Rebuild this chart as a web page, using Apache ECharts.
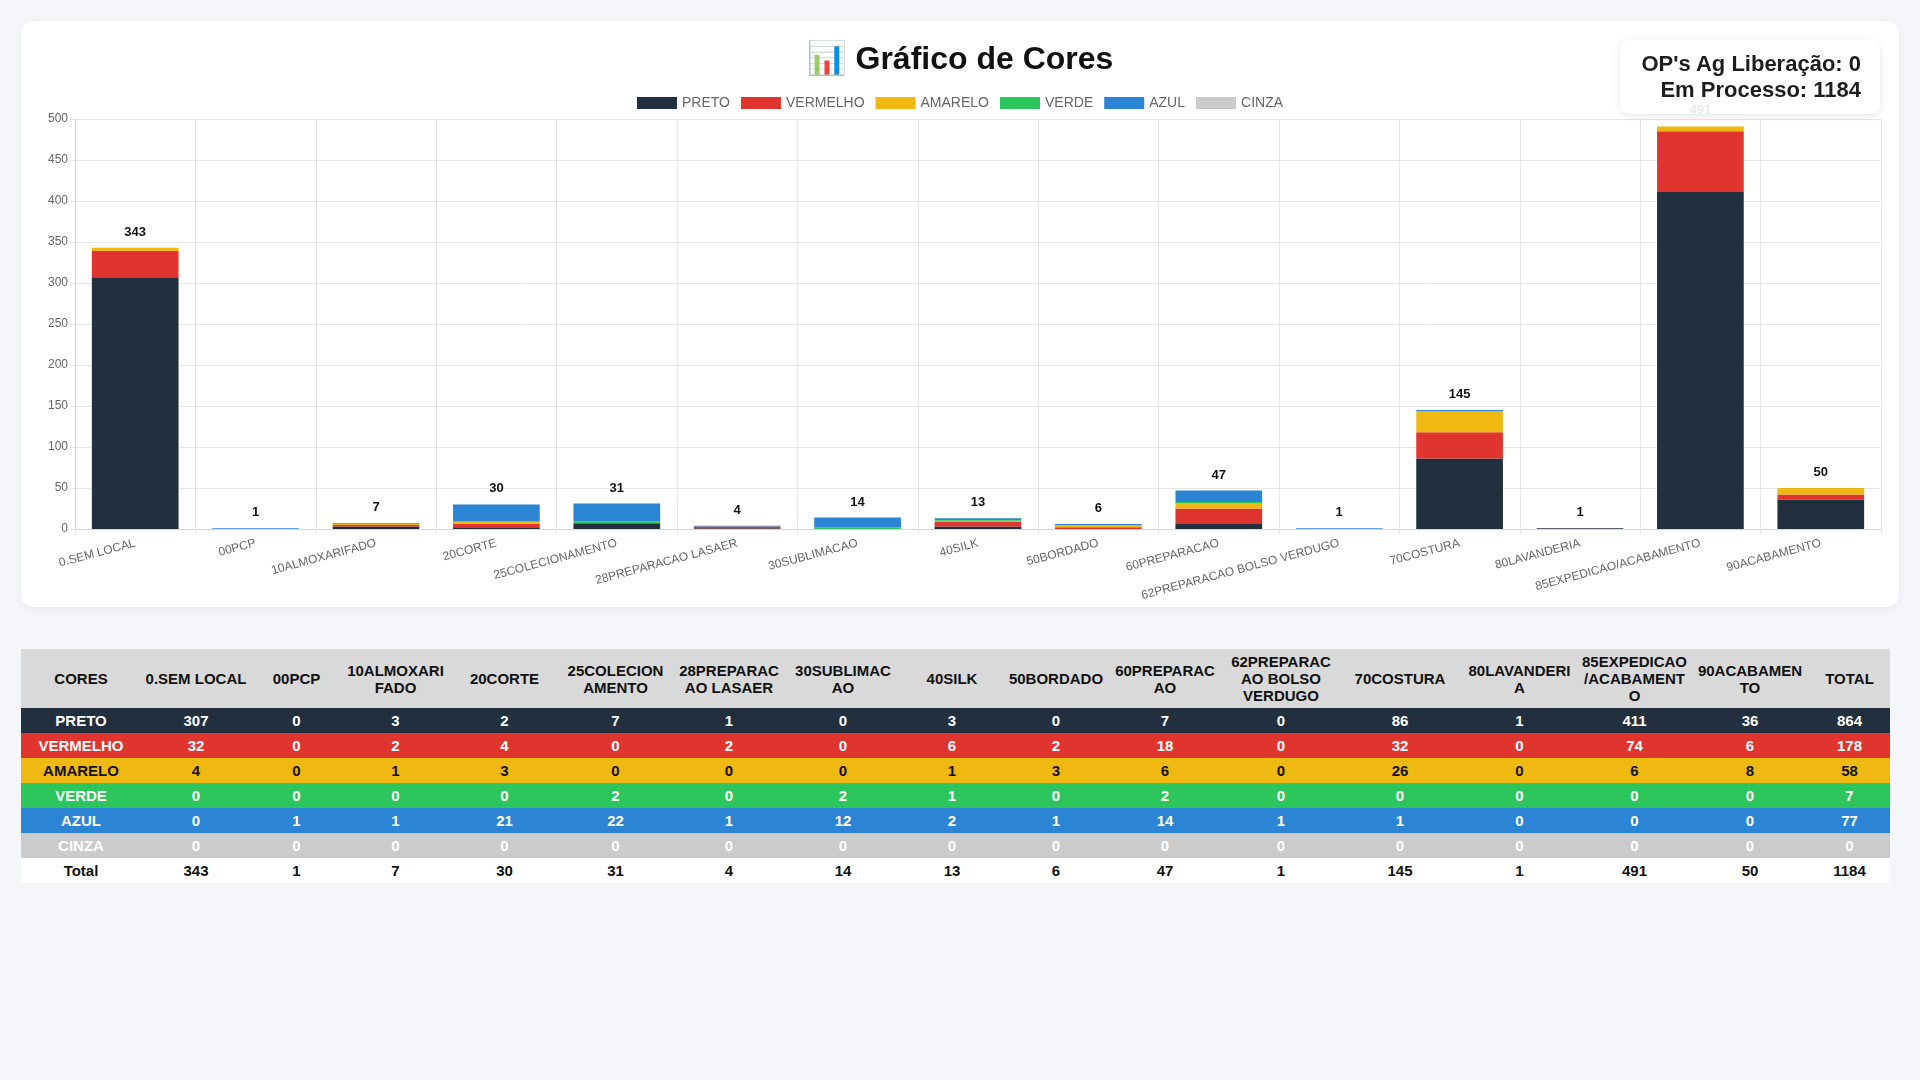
<!DOCTYPE html>
<html lang="pt-BR">
<head>
<meta charset="utf-8">
<title>Gráfico de Cores</title>
<script src="https://cdn.jsdelivr.net/npm/echarts@6/dist/echarts.min.js"></script>
<style>
	html, body { margin: 0; padding: 0; }
	body {
		width: 1920px; height: 1080px; position: relative; overflow: hidden;
		background: #f4f6f9;
		font-family: "Liberation Sans", Arial, Helvetica, sans-serif;
	}
	.card {
		position: absolute; left: 21px; top: 21px; width: 1878px; height: 586px;
		background: #fff; border-radius: 12px;
		box-shadow: 0 2px 10px rgba(0,0,0,0.06);
	}
	#grafico { width: 100%; height: 100%; }
	.info {
		position: absolute; left: 1620px; top: 40px; width: 260px; height: 74px;
		box-sizing: border-box; padding: 11px 19px;
		background: rgba(255,255,255,0.9); border-radius: 10px;
		box-shadow: 0 2px 8px rgba(0,0,0,0.1);
		text-align: right; font-weight: bold; font-size: 22px; line-height: 26px;
		color: #1e1e1e; z-index: 5;
	}
	table.cores {
		position: absolute; left: 21px; top: 649px; width: 1869px;
		table-layout: fixed;
		border-collapse: collapse; font-weight: bold; font-size: 15px; line-height: 17px;
		text-align: center;
	}
	table.cores th, table.cores td { padding: 4px 3px; overflow-wrap: anywhere; }
	table.cores th { background: #d9d9d9; color: #111; }
	table.cores tr.total td { background: #fff; color: #111; }
</style>
</head>
<body>
<div class="card"><div id="grafico"></div></div>
<div class="info">OP's Ag Liberação: 0<br>Em Processo: 1184</div>
<table class="cores" id="tabela"></table>

<script>
// setores (eixo x)
var setores = ['0.SEM LOCAL', '00PCP', '10ALMOXARIFADO', '20CORTE', '25COLECIONAMENTO',
	'28PREPARACAO LASAER', '30SUBLIMACAO', '40SILK', '50BORDADO', '60PREPARACAO',
	'62PREPARACAO BOLSO VERDUGO', '70COSTURA', '80LAVANDERIA', '85EXPEDICAO/ACABAMENTO', '90ACABAMENTO'];

// quantidade por cor
var preto    = [307, 0, 3, 2, 7, 1, 0, 3, 0, 7, 0, 86, 1, 411, 36];
var vermelho = [32, 0, 2, 4, 0, 2, 0, 6, 2, 18, 0, 32, 0, 74, 6];
var amarelo  = [4, 0, 1, 3, 0, 0, 0, 1, 3, 6, 0, 26, 0, 6, 8];
var verde    = [0, 0, 0, 0, 2, 0, 2, 1, 0, 2, 0, 0, 0, 0, 0];
var azul     = [0, 1, 1, 21, 22, 1, 12, 2, 1, 14, 1, 1, 0, 0, 0];
var cinza    = [0, 0, 0, 0, 0, 0, 0, 0, 0, 0, 0, 0, 0, 0, 0];

var nomesCores = ['PRETO', 'VERMELHO', 'AMARELO', 'VERDE', 'AZUL', 'CINZA'];
var coresHex   = ['#222f3e', '#e0352f', '#efb912', '#2dc65d', '#2b84d4', '#cbcbcb'];
var coresTexto = ['#fff', '#fff', '#111', '#fff', '#fff', '#fff'];
var valores    = [preto, vermelho, amarelo, verde, azul, cinza];

// eixo y
var yMin = 0, yMax = 500, yPasso = 50;

// largura das colunas da tabela (CORES, setores..., TOTAL)
var larguras = [120, 110, 91, 107, 111, 111, 116, 112, 106, 102, 116, 116, 122, 117, 113, 118, 81];

// total por setor
var totais = setores.map(function(s, i) {
	var t = 0;
	valores.forEach(function(v) { t += v[i]; });
	return t;
});

var fonte = '"Liberation Sans", Arial, Helvetica, sans-serif';
var corGrade = '#e6e6e6';

var series = nomesCores.map(function(nome, k) {
	var s = {
		name: nome,
		type: 'bar',
		stack: 'total',
		barWidth: '72%',
		itemStyle: { color: coresHex[k] },
		data: valores[k]
	};
	if (k === nomesCores.length - 1) {
		s.label = {
			show: true,
			position: 'top',
			distance: 9,
			fontFamily: fonte,
			fontSize: 13,
			fontWeight: 'bold',
			color: '#111',
			formatter: function(p) { return totais[p.dataIndex]; }
		};
	}
	return s;
});

var grafico = echarts.init(document.getElementById('grafico'));
grafico.setOption({
	animation: false,
	textStyle: { fontFamily: fonte },
	title: {
		text: '📊 Gráfico de Cores',
		left: 'center',
		top: 18,
		textStyle: { fontSize: 32, fontWeight: 'bold', color: '#111', fontFamily: fonte }
	},
	legend: {
		top: 70,
		left: 'center',
		icon: 'rect',
		itemWidth: 40,
		itemHeight: 12,
		itemGap: 11,
		textStyle: { color: '#666', fontSize: 14, fontFamily: fonte },
		data: nomesCores
	},
	grid: { left: 54, right: 18, top: 98, bottom: 78 },
	xAxis: {
		type: 'category',
		data: setores,
		axisLine: { lineStyle: { color: '#d6d6d6' } },
		axisTick: { show: true, length: 5, interval: 0, lineStyle: { color: corGrade } },
		splitLine: { show: true, interval: 0, lineStyle: { color: corGrade } },
		axisLabel: { interval: 0, rotate: 15, margin: 14, color: '#666', fontSize: 12, fontFamily: fonte }
	},
	yAxis: {
		type: 'value',
		min: yMin,
		max: yMax,
		interval: yPasso,
		axisLine: { show: true, lineStyle: { color: '#d6d6d6' } },
		axisTick: { show: true, length: 5, lineStyle: { color: corGrade } },
		splitLine: { lineStyle: { color: corGrade } },
		axisLabel: { color: '#666', fontSize: 12, margin: 7, fontFamily: fonte }
	},
	series: series
});

// tabela
var html = '<colgroup>';
larguras.forEach(function(w) { html += '<col style="width:' + w + 'px">'; });
html += '</colgroup><tr><th>CORES</th>';
setores.forEach(function(s) { html += '<th>' + s + '</th>'; });
html += '<th>TOTAL</th></tr>';
nomesCores.forEach(function(nome, k) {
	var soma = 0;
	html += '<tr style="background:' + coresHex[k] + ';color:' + coresTexto[k] + '"><td>' + nome + '</td>';
	valores[k].forEach(function(v) { soma += v; html += '<td>' + v + '</td>'; });
	html += '<td>' + soma + '</td></tr>';
});
var geral = 0;
html += '<tr class="total"><td>Total</td>';
totais.forEach(function(t) { geral += t; html += '<td>' + t + '</td>'; });
html += '<td>' + geral + '</td></tr>';
document.getElementById('tabela').innerHTML = html;
</script>
</body>
</html>
